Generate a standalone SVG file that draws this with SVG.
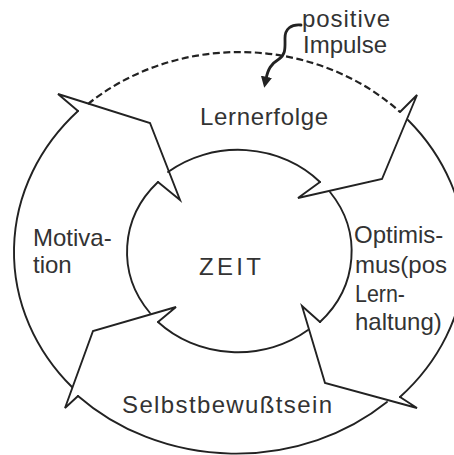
<svg xmlns="http://www.w3.org/2000/svg" width="454" height="455" viewBox="0 0 454 455">
<style>
.ln{fill:none;stroke:#222;stroke-width:1.9;stroke-linejoin:miter;stroke-linecap:round}
.dash{fill:none;stroke:#222;stroke-width:2.2;stroke-dasharray:7 3.5}
.sq{fill:none;stroke:#222;stroke-width:2.8;stroke-linecap:round}
.t{font-family:"Liberation Sans",Arial,sans-serif;font-size:24px;fill:#333}
</style>
<defs>
<marker id="ah" viewBox="0 0 10 10" refX="2" refY="5" markerWidth="4" markerHeight="4" orient="auto" markerUnits="strokeWidth">
<path d="M0,0 L10,5 L0,10 Z" fill="#222"/>
</marker>
</defs>
<rect width="454" height="455" fill="#fff"/>
<g id="node-motivation">
<path class="ln" d="M72,387 A226,202 0 0 1 78,111"/>
<path class="ln" d="M150,313 A112,101 0 0 1 158,182"/>
<path class="ln" d="M78,111 L58,94 L150,123 L180,200 L158,182"/>
<text class="t" x="33" y="246">Motiva-</text>
<text class="t" x="33" y="273">tion</text>
</g>
<g id="node-lernerfolge">
<path class="dash" d="M88,104 A226,202 0 0 1 400,112"/>
<path class="ln" d="M168,172 A112,101 0 0 1 320,182"/>
<path class="ln" d="M400,112 L417,95 L382,179 L298,198 L320,182"/>
<text class="t" x="200" y="125" textLength="128" lengthAdjust="spacing">Lernerfolge</text>
</g>
<g id="node-optimismus">
<path class="ln" d="M408,120 A226,202 0 0 1 400,397"/>
<path class="ln" d="M330,192 A112,101 0 0 1 320,322"/>
<path class="ln" d="M400,397 L417,408 L325,383 L302,306 L320,322"/>
<text class="t" x="354" y="243">Optimis-</text>
<text class="t" x="355" y="273">mus(pos</text>
<text class="t" x="355" y="302" textLength="50" lengthAdjust="spacingAndGlyphs">Lern-</text>
<text class="t" x="355" y="330">haltung)</text>
</g>
<g id="node-selbstbewusstsein">
<path class="ln" d="M387,402 A226,202 0 0 1 78,396"/>
<path class="ln" d="M308,330 A112,101 0 0 1 158,322"/>
<path class="ln" d="M78,396 L65,408 L93,331 L176,307 L158,322"/>
<text class="t" x="122" y="413" textLength="210" lengthAdjust="spacing">Selbstbewußtsein</text>
</g>
<g id="node-zeit">
<text class="t" x="199" y="275" textLength="62" lengthAdjust="spacing">ZEIT</text>
</g>
<g id="node-impulse">
<text class="t" x="302" y="27" textLength="88" lengthAdjust="spacing">positive</text>
<text class="t" x="303" y="53">Impulse</text>
</g>
<g id="connectors">
<path class="sq" marker-end="url(#ah)" d="M301,25 C291,24 285,29 285,38 C285,48 286,54 279,59 C271,64 268,69 266,79"/>
</g>
</svg>
